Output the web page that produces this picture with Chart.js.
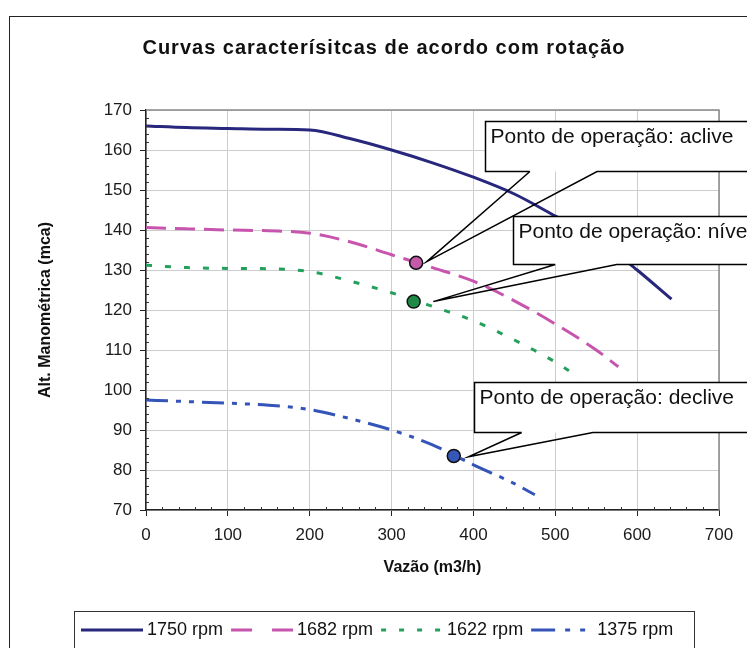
<!DOCTYPE html>
<html>
<head>
<meta charset="utf-8">
<script src="https://cdn.jsdelivr.net/npm/chart.js@4.4.0/dist/chart.umd.min.js"></script>
<style>
    html, body { margin: 0; padding: 0; background: #fff; }
    #wrap { position: relative; width: 747px; height: 648px; }
</style>
</head>
<body>
<div id="wrap"><canvas id="pumpChart"></canvas></div>
<script>
const chartTitle = 'Curvas caracterísitcas de acordo com rotação';
const xTitle = 'Vazão (m3/h)';
const yTitle = 'Alt. Manométrica (mca)';
const xTicks = [0, 100, 200, 300, 400, 500, 600, 700];
const yTicks = [70, 80, 90, 100, 110, 120, 130, 140, 150, 160, 170];

const seriesNames = ['1750 rpm', '1682 rpm', '1622 rpm', '1375 rpm'];

// curvas (vazão m3/h, altura mca)
const flow1750 = [0, 50, 100, 150, 200, 250, 300, 350, 400, 450, 500, 550, 600, 642];
const head1750 = [166, 165.6, 165.4, 165.2, 165, 162.8, 160, 156.8, 153.2, 149, 143.5, 138, 130, 122.7];
const flow1682 = [0, 50, 100, 150, 200, 250, 300, 350, 400, 450, 500, 550, 577];
const head1682 = [140.6, 140.3, 140, 139.8, 139.2, 137, 133.8, 130.6, 127.2, 122.3, 116.5, 110, 105.8];
const flow1622 = [0, 50, 100, 150, 200, 250, 300, 350, 400, 450, 500, 530];
const head1622 = [131.2, 130.6, 130.4, 130.3, 129.6, 127.2, 124.3, 120.9, 117.3, 112.5, 107, 103];
const flow1375 = [0, 50, 100, 150, 200, 250, 300, 350, 400, 450, 475];
const head1375 = [97.5, 97.1, 96.7, 96.2, 95.1, 92.8, 90, 86.3, 81.3, 76.6, 73.8];

// pontos de operação
const opFlow = [330, 327, 376];
const opHead = [131.8, 122.1, 83.5];
const calloutTexts = ['Ponto de operação: aclive', 'Ponto de operação: nível', 'Ponto de operação: declive'];

// caixas dos balões em unidades do gráfico
const calloutLayout = [
    { left: 414, top: 167.3, bottom: 154.8, baseA: 469, baseB: 551, tipX: 343, tipY: 132.1 },
    { left: 448, top: 143.5, bottom: 131.4, baseA: 500, baseB: 575, tipX: 351, tipY: 122.1 },
    { left: 401, top: 102.1, bottom: 89.6, baseA: 459, baseB: 546, tipX: 394, tipY: 83.3 }
];

const FONT = "'Liberation Sans', Arial, sans-serif";

function toPoints(xs, ys) {
    return xs.map((x, i) => ({ x: x, y: ys[i] }));
}

const curveStyles = [
    { color: '#27277d', dash: [], legendDash: [] },
    { color: '#c755ad', dash: [20, 9], legendDash: [21, 20] },
    { color: '#24a05c', dash: [6, 13], legendDash: [5, 13] },
    { color: '#3454b8', dash: [22, 8, 5, 8, 5, 8], legendDash: [24, 10, 5, 10, 5, 10] }
];
const markerColors = ['#c45aa8', '#1e8a46', '#3558b8'];

const curveData = [
    toPoints(flow1750, head1750),
    toPoints(flow1682, head1682),
    toPoints(flow1622, head1622),
    toPoints(flow1375, head1375)
];

const datasets = curveData.map((pts, i) => ({
    label: seriesNames[i],
    data: pts,
    borderColor: curveStyles[i].color,
    backgroundColor: curveStyles[i].color,
    borderDash: curveStyles[i].dash,
    legendDash: curveStyles[i].legendDash,
    borderWidth: 3,
    pointRadius: 0,
    cubicInterpolationMode: 'monotone',
    showLine: true,
    fill: false,
    order: 2,
    isCurve: true
}));

opFlow.forEach((f, i) => {
    datasets.push({
        label: calloutTexts[i],
        data: [{ x: f, y: opHead[i] }],
        pointRadius: 6.5,
        pointBackgroundColor: markerColors[i],
        pointBorderColor: '#111',
        pointBorderWidth: 1.5,
        showLine: false,
        order: 0
    });
});

// titulo, moldura, bordas, marcas menores, balões e legenda
const decorPlugin = {
    id: 'decor',
    afterDraw(chart) {
        const { ctx, chartArea: a, scales: { x, y } } = chart;
        ctx.save();

        // moldura externa
        ctx.strokeStyle = '#222';
        ctx.lineWidth = 1;
        ctx.strokeRect(9.5, 16.5, 900, 900);

        // título
        ctx.fillStyle = '#111';
        ctx.font = 'bold 20px ' + FONT;
        ctx.letterSpacing = '1px';
        ctx.textAlign = 'center';
        ctx.textBaseline = 'middle';
        ctx.fillText(chartTitle, 384, 48);
        ctx.letterSpacing = '0px';

        // borda superior e direita da área
        ctx.strokeStyle = '#8a8a8a';
        ctx.lineWidth = 1.5;
        ctx.beginPath();
        ctx.moveTo(a.left, a.top);
        ctx.lineTo(a.right, a.top);
        ctx.lineTo(a.right, a.bottom);
        ctx.stroke();

        // marcas menores
        ctx.strokeStyle = '#333';
        ctx.lineWidth = 1;
        ctx.beginPath();
        for (let v = 70; v <= 170; v += 2) {
            if (v % 10 === 0) continue;
            const py = Math.round(y.getPixelForValue(v)) + 0.5;
            ctx.moveTo(a.left, py);
            ctx.lineTo(a.left + 3, py);
        }
        for (let v = 0; v <= 700; v += 20) {
            if (v % 100 === 0) continue;
            const px = Math.round(x.getPixelForValue(v)) + 0.5;
            ctx.moveTo(px, a.bottom);
            ctx.lineTo(px, a.bottom - 3);
        }
        ctx.stroke();

        // balões
        ctx.font = '21px ' + FONT;
        ctx.textAlign = 'left';
        ctx.textBaseline = 'alphabetic';
        calloutLayout.forEach((c, i) => {
            const l = Math.round(x.getPixelForValue(c.left)) + 0.5;
            const t = Math.round(y.getPixelForValue(c.top)) + 0.5;
            const b = Math.round(y.getPixelForValue(c.bottom)) + 0.5;
            const r = 900;
            const ba = x.getPixelForValue(c.baseA);
            const bb = x.getPixelForValue(c.baseB);
            const tx = x.getPixelForValue(c.tipX);
            const ty = y.getPixelForValue(c.tipY);
            ctx.fillStyle = '#fff';
            ctx.fillRect(l, t, r - l, b - t);
            ctx.strokeStyle = '#000';
            ctx.lineWidth = 1.5;
            ctx.beginPath();
            ctx.moveTo(ba, b);
            ctx.lineTo(l, b);
            ctx.lineTo(l, t);
            ctx.lineTo(r, t);
            ctx.moveTo(r, b);
            ctx.lineTo(bb, b);
            ctx.lineTo(tx, ty);
            ctx.lineTo(ba, b);
            ctx.stroke();
            ctx.fillStyle = '#111';
            ctx.fillText(calloutTexts[i], l + 5, t + 21);
        });

        // legenda
        const lx = 74, ly = 611, lw = 620, lh = 40;
        ctx.fillStyle = '#fff';
        ctx.fillRect(lx, ly, lw, lh);
        ctx.strokeStyle = '#333';
        ctx.lineWidth = 1;
        ctx.strokeRect(lx + 0.5, ly + 0.5, lw, lh);
        ctx.font = '18px ' + FONT;
        ctx.textBaseline = 'middle';
        let cx = lx + 7;
        const cy = ly + 19;
        chart.data.datasets.filter(d => d.isCurve).forEach(d => {
            ctx.strokeStyle = d.borderColor;
            ctx.lineWidth = 3;
            ctx.setLineDash(d.legendDash);
            ctx.beginPath();
            ctx.moveTo(cx, cy);
            ctx.lineTo(cx + 62, cy);
            ctx.stroke();
            ctx.setLineDash([]);
            ctx.fillStyle = '#111';
            ctx.fillText(d.label, cx + 66, cy);
            cx += 66 + ctx.measureText(d.label).width + 8;
        });

        ctx.restore();
    }
};

const chart = new Chart(document.getElementById('pumpChart'), {
    type: 'scatter',
    data: { datasets: datasets },
    options: {
        responsive: true,
        maintainAspectRatio: false,
        animation: false,
        events: [],
        layout: {
            padding: { top: 110, right: 28, bottom: 63, left: 0 }
        },
        plugins: {
            legend: { display: false },
            title: { display: false },
            tooltip: { enabled: false }
        },
        scales: {
            x: {
                type: 'linear',
                min: 0,
                max: 700,
                afterBuildTicks: s => { s.ticks = xTicks.map(v => ({ value: v })); },
                afterFit: s => { s.height = 75; },
                ticks: { color: '#1a1a1a', font: { family: FONT, size: 17 }, padding: 9, maxRotation: 0 },
                grid: { color: '#cdcdcd', tickColor: '#222', tickLength: 6, lineWidth: 1 },
                border: { color: '#222', width: 1.5 },
                title: { display: true, text: xTitle, color: '#111', font: { family: FONT, size: 16, weight: 'bold' }, padding: { bottom: 8 } }
            },
            y: {
                type: 'linear',
                min: 70,
                max: 170,
                afterBuildTicks: s => { s.ticks = yTicks.map(v => ({ value: v })); },
                afterFit: s => { s.width = 146; },
                ticks: { color: '#1a1a1a', font: { family: FONT, size: 17 }, padding: 8 },
                grid: { color: '#cdcdcd', tickColor: '#222', tickLength: 6, lineWidth: 1 },
                border: { color: '#222', width: 1.5 },
                title: { display: true, text: yTitle, color: '#111', font: { family: FONT, size: 16, weight: 'bold' }, padding: { top: 36 } }
            }
        }
    },
    plugins: [decorPlugin]
});
</script>
</body>
</html>
